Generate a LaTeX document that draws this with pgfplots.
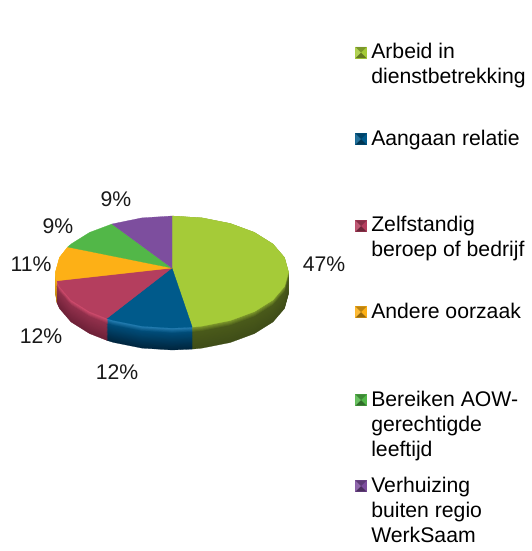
\documentclass[border=0pt]{standalone}
\usepackage{pgfplots}
\usepackage{pgfplotstable}
\usepackage{fontspec}
\setmainfont{Liberation Sans}
\pgfplotsset{compat=1.18}

% pie slices as traced on the picture (pixel coordinates), first row is the apex
\pgfplotstableread{
x y
172 268
172 216
202.2 217.9
230.3 223.5
254.4 232.4
272.9 244
284.5 257.5
288.5 272
284.5 286.5
272.9 300
254.4 311.6
230.3 320.5
202.2 326.1
192.2 327.1
}\sliceA
\pgfplotstableread{
x y
172 268
192.2 327.1
172 328
141.8 326.1
113.8 320.5
106.9 318.4
}\sliceB
\pgfplotstableread{
x y
172 268
106.9 318.4
89.6 311.6
71.1 300
59.5 286.5
56.9 280.8
}\sliceC
\pgfplotstableread{
x y
172 268
56.9 280.8
55.5 272
59.5 257.5
67.7 247
}\sliceD
\pgfplotstableread{
x y
172 268
67.7 247
71.1 244
89.6 232.4
112 224
}\sliceE
\pgfplotstableread{
x y
172 268
112 224
141.8 217.9
172 216
}\sliceF

% percentage labels
\pgfplotstableread{
x y label
324 264 47\%
117 372 12\%
41 336 12\%
31 264 11\%
58 226 9\%
116 199 9\%
}\pielabels

\definecolor{cA}{HTML}{A5CB38}
\definecolor{cB}{HTML}{005A8B}
\definecolor{cC}{HTML}{B43E5E}
\definecolor{cD}{HTML}{FDB016}
\definecolor{cE}{HTML}{52B748}
\definecolor{cF}{HTML}{7D4E9E}
\definecolor{dA}{HTML}{3F4D18}
\definecolor{mA}{HTML}{4A5A1A}
\definecolor{lA}{HTML}{86A32E}
\definecolor{dB}{HTML}{00263F}
\definecolor{mB}{HTML}{004C78}
\definecolor{lB}{HTML}{2B86BC}
\definecolor{dC}{HTML}{6E2138}
\definecolor{mC}{HTML}{92304C}
\definecolor{lC}{HTML}{DC5274}
\definecolor{dD}{HTML}{C08A10}
\definecolor{mD}{HTML}{F0A812}
\definecolor{lD}{HTML}{FFC21E}

% bevelled legend square
\pgfdeclareplotmark{bevel}{%
  \pgfuseplotmark{square*}%
  \pgfsetlinewidth{0pt}%
  \pgfsetfillopacity{0.4}\pgfsetfillcolor{black}%
  \pgfpathmoveto{\pgfqpoint{-\pgfplotmarksize}{-\pgfplotmarksize}}%
  \pgfpathlineto{\pgfqpoint{\pgfplotmarksize}{-\pgfplotmarksize}}%
  \pgfpathlineto{\pgfqpoint{0pt}{0pt}}\pgfpathclose\pgfusepathqfill
  \pgfsetfillopacity{0.25}%
  \pgfpathmoveto{\pgfqpoint{-\pgfplotmarksize}{\pgfplotmarksize}}%
  \pgfpathlineto{\pgfqpoint{\pgfplotmarksize}{\pgfplotmarksize}}%
  \pgfpathlineto{\pgfqpoint{0pt}{0pt}}\pgfpathclose\pgfusepathqfill
  \pgfsetfillopacity{0.15}\pgfsetfillcolor{white}%
  \pgfpathmoveto{\pgfqpoint{-\pgfplotmarksize}{-\pgfplotmarksize}}%
  \pgfpathlineto{\pgfqpoint{-\pgfplotmarksize}{\pgfplotmarksize}}%
  \pgfpathlineto{\pgfqpoint{0pt}{0pt}}\pgfpathclose\pgfusepathqfill
}

% side wall: the slice drawn again and again, shifted down
\newcommand{\wallpart}[5]{%
  \addplot[forget plot, mark=none, draw=#3!#1!#4, line width=0.2pt, fill=#3!#1!#4,
    y filter/.expression={y+#5}] table {#2} -- cycle;}
\newcommand{\topface}[2]{\addplot[forget plot, mark=none, draw=#2, line width=0.2pt, fill=#2] table {#1} -- cycle;}
\newcommand{\legmark}[3]{\addplot[forget plot, only marks, mark=bevel, mark size=4.2pt, color=#3] coordinates {(#1,#2)};}
\newcommand{\legline}[3]{\node[anchor=base west, inner sep=0pt] at (axis cs:#1,#2) {#3};}

\begin{document}
\begin{tikzpicture}
  \useasboundingbox (0,0) rectangle (399pt,413.25pt);
  \begin{axis}[
      at={(0,0)}, anchor=south west,
      scale only axis, width=399pt, height=413.25pt,
      xmin=0, xmax=532, ymin=0, ymax=551, y dir=reverse,
      hide axis, clip=false,
      font=\fontsize{15.9}{18.75}\selectfont,
    ]
    % walls, deepest first
    \pgfplotsinvokeforeach{100,95,...,0}{%
      \wallpart{#1}{\sliceA}{dA}{mA}{0.165*#1+5.5}
      \wallpart{#1}{\sliceB}{dB}{mB}{0.165*#1+5.5}
      \wallpart{#1}{\sliceC}{dC}{mC}{0.165*#1+5.5}
      \wallpart{#1}{\sliceD}{dD}{mD}{0.165*#1+5.5}
    }
    \pgfplotsinvokeforeach{100,80,...,0}{%
      \wallpart{#1}{\sliceA}{mA}{lA}{0.055*#1}
      \wallpart{#1}{\sliceB}{mB}{lB}{0.055*#1}
      \wallpart{#1}{\sliceC}{mC}{lC}{0.055*#1}
      \wallpart{#1}{\sliceD}{mD}{lD}{0.055*#1}
    }
    % top face
    \topface{\sliceA}{cA}
    \topface{\sliceB}{cB}
    \topface{\sliceC}{cC}
    \topface{\sliceD}{cD}
    \topface{\sliceE}{cE}
    \topface{\sliceF}{cF}
    % percentages
    \addplot[forget plot, only marks, mark=none, point meta=explicit symbolic,
      nodes near coords, nodes near coords align={center},
      every node near coord/.append style={anchor=center, inner sep=0pt, text=black!90}]
      table [meta=label] {\pielabels};
    % legend
    \legmark{361}{52.5}{cA}
    \legmark{361}{139}{cB}
    \legmark{361}{226}{cC}
    \legmark{361}{312}{cD}
    \legmark{361}{400}{cE}
    \legmark{361}{486}{cF}
    \legline{371}{58}{Arbeid in}
    \legline{371}{83}{dienstbetrekking}
    \legline{371}{145}{Aangaan relatie}
    \legline{371}{231}{Zelfstandig}
    \legline{371}{256}{beroep of bedrijf}
    \legline{371}{318}{Andere oorzaak}
    \legline{371}{406}{Bereiken AOW-}
    \legline{371}{431}{gerechtigde}
    \legline{371}{456}{leeftijd}
    \legline{371}{492}{Verhuizing}
    \legline{371}{517}{buiten regio}
    \legline{371}{542}{WerkSaam}
  \end{axis}
\end{tikzpicture}
\end{document}
